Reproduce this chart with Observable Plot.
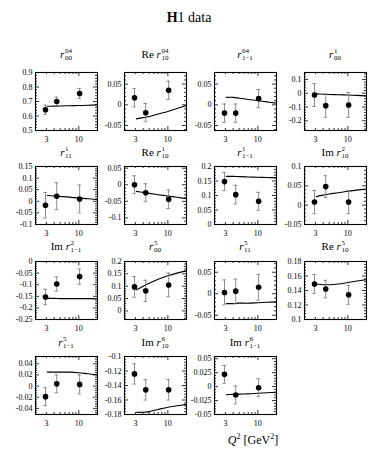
<!DOCTYPE html>
<html><head><meta charset="utf-8">
<script src="https://cdn.jsdelivr.net/npm/d3@7"></script>
<script src="https://cdn.jsdelivr.net/npm/@observablehq/plot@0.6"></script>
<style>
body{margin:0;background:#fff;}
#wrap{position:relative;width:378px;height:454px;font-family:"Liberation Serif","Times New Roman",serif;color:#000;overflow:hidden;}
.panel{position:absolute;}
.title{position:absolute;transform:translate(-50%,-50%);font-size:11px;white-space:nowrap;line-height:1;}
.ss{display:inline-flex;flex-direction:column;vertical-align:middle;font-size:7px;line-height:7px;margin-left:0.5px;}
#main{position:absolute;left:189px;top:18px;transform:translate(-50%,-50%);font-size:14px;white-space:nowrap;}
#xlab{position:absolute;left:253px;top:440px;transform:translate(-50%,-50%);font-size:12px;white-space:nowrap;}
#xlab sup{font-size:8px;}
</style></head>
<body><div id="wrap">
<div id="main"><b>H</b>1 data</div>
<div id="xlab"><i>Q</i><sup>2</sup> [GeV<sup>2</sup>]</div>
</div>
<script>
// ---- data ----
const Q2 = [2.9, 4.4, 10.3];
const curveQ2 = [3.1, 4, 5, 7, 10, 14, 20];
const xLabelTicks = [3, 10];
const xMinorTicks = [3, 4, 5, 6, 7, 8, 9];
const xMajorTicks = [10];

const titlePrefix = ["", "Re ", "", "", "", "Re ", "", "Im ", "Im ", "", "", "Re ", "", "Im ", "Im "];
const titleSup = ["04","04","04","1","1","1","1","2","2","5","5","5","5","6","6"];
const titleSub = ["00","10","1\u22121","00","11","10","1\u22121","10","1\u22121","00","11","10","1\u22121","10","1\u22121"];

const yDomains = [
  [0.5, 0.9], [-0.062, 0.078], [-0.062, 0.078], [-0.27, 0.15],
  [-0.1, 0.15], [-0.12, 0.055], [0, 0.2], [-0.05, 0.1],
  [-0.25, 0], [-0.035, 0.2], [-0.06, 0.075], [0.1, 0.18],
  [-0.051, 0.053], [-0.18, -0.1], [-0.05, 0.054]
];
const yTicks = [
  [0.5, 0.6, 0.7, 0.8, 0.9], [-0.05, 0, 0.05], [-0.05, 0, 0.05], [-0.2, -0.1, 0, 0.1],
  [-0.1, -0.05, 0, 0.05, 0.1, 0.15], [-0.1, -0.05, 0, 0.05], [0, 0.05, 0.1, 0.15, 0.2], [-0.05, 0, 0.05, 0.1],
  [-0.25, -0.2, -0.15, -0.1, -0.05, 0], [0, 0.05, 0.1, 0.15, 0.2], [-0.05, 0, 0.05], [0.1, 0.12, 0.14, 0.16, 0.18],
  [-0.04, -0.02, 0, 0.02, 0.04], [-0.18, -0.16, -0.14, -0.12, -0.1], [-0.05, -0.025, 0, 0.025, 0.05]
];
const values = [
  [0.643, 0.70, 0.755], [0.017, -0.019, 0.035], [-0.02, -0.02, 0.015], [-0.013, -0.09, -0.085],
  [-0.017, 0.022, 0.01], [0.0, -0.024, -0.044], [0.148, 0.103, 0.08], [0.008, 0.048, 0.008],
  [-0.153, -0.097, -0.065], [0.097, 0.081, 0.105], [0.003, 0.006, 0.015], [0.149, 0.142, 0.134],
  [-0.019, 0.004, 0.003], [-0.124, -0.146, -0.146], [0.022, -0.015, -0.002]
];
const errors = [
  [0.032, 0.03, 0.035], [0.022, 0.022, 0.022], [0.022, 0.022, 0.022], [0.083, 0.085, 0.09],
  [0.055, 0.058, 0.06], [0.027, 0.027, 0.028], [0.031, 0.032, 0.031], [0.03, 0.028, 0.03],
  [0.033, 0.031, 0.033], [0.042, 0.043, 0.048], [0.029, 0.028, 0.03], [0.013, 0.012, 0.013],
  [0.016, 0.016, 0.017], [0.014, 0.014, 0.014], [0.016, 0.016, 0.016]
];
const curves = [
  [0.667, 0.668, 0.669, 0.671, 0.672, 0.674, 0.677],
  [-0.034, -0.031, -0.028, -0.022, -0.016, -0.009, -0.002],
  [0.018, 0.018, 0.016, 0.013, 0.010, 0.007, 0.004],
  [-0.005, -0.007, -0.009, -0.011, -0.013, -0.016, -0.019],
  [0.025, 0.023, 0.021, 0.018, 0.014, 0.011, 0.007],
  [-0.020, -0.023, -0.026, -0.030, -0.034, -0.038, -0.042],
  [0.166, 0.166, 0.165, 0.164, 0.163, 0.162, 0.161],
  [0.022, 0.026, 0.029, 0.032, 0.036, 0.039, 0.042],
  [-0.159, -0.159, -0.16, -0.16, -0.16, -0.16, -0.161],
  [0.085, 0.100, 0.112, 0.128, 0.142, 0.153, 0.163],
  [-0.023, -0.023, -0.022, -0.022, -0.021, -0.020, -0.019],
  [0.149, 0.148, 0.148, 0.149, 0.151, 0.153, 0.155],
  [0.025, 0.025, 0.025, 0.025, 0.024, 0.022, 0.020],
  [-0.177, -0.177, -0.176, -0.173, -0.170, -0.168, -0.166],
  [-0.0145, -0.014, -0.0135, -0.013, -0.012, -0.011, -0.010]
];

// ---- layout ----
const colX = [35, 124, 214, 304];
const rowY = [72, 166, 261, 356];
const titleY = [55, 153, 247, 343];
const fw = 62, fh = 58, mL = 32, mR = 3, mT = 3, mB = 18;

const wrap = document.getElementById("wrap");
const fmt = v => String(+v.toFixed(4));

function panel(i) {
  const yd = yDomains[i], span = yd[1] - yd[0];
  const pts = Q2.map((q, j) => ({q, v: values[i][j], e: errors[i][j]}));
  const cur = curveQ2.map((q, j) => ({q, v: curves[i][j]}));
  const major = yTicks[i];
  const mstep = (major[1] - major[0]) / 5;
  const minor = d3.range(Math.ceil(yd[0] / mstep - 1e-6), Math.floor(yd[1] / mstep + 1e-6) + 1)
    .map(k => +(k * mstep).toFixed(6))
    .filter(v => !major.some(m => Math.abs(m - v) < 1e-9));
  const dyL = L => span * L / fh;
  const kx = L => Math.pow(10, L / fw);
  const tk = {stroke: "#000", strokeWidth: 0.8};
  const yRules = (vals, L) => [
    Plot.ruleY(vals, {x1: 2, x2: 2 * kx(L), ...tk}),
    Plot.ruleY(vals, {x1: 20 / kx(L), x2: 20, ...tk})
  ];
  const xRules = (vals, L) => [
    Plot.ruleX(vals, {y1: yd[0], y2: yd[0] + dyL(L), ...tk}),
    Plot.ruleX(vals, {y1: yd[1] - dyL(L), y2: yd[1], ...tk})
  ];
  const cap = kx(1.8);
  return Plot.plot({
    width: fw + mL + mR, height: fh + mT + mB,
    marginLeft: mL, marginRight: mR, marginTop: mT, marginBottom: mB,
    x: {type: "log", domain: [2, 20], label: null},
    y: {domain: yd, label: null},
    style: {background: "none", fontFamily: "'Liberation Serif', 'Times New Roman', serif", fontSize: "8px", color: "#000", overflow: "visible"},
    marks: [
      ...yRules(major, 4), ...yRules(minor, 2),
      ...xRules(xMajorTicks, 4), ...xRules(xMinorTicks, 2),
      Plot.axisY({ticks: major, anchor: "left", tickSize: 0, tickPadding: 3, tickFormat: fmt, label: null}),
      Plot.axisX({ticks: xLabelTicks, anchor: "bottom", tickSize: 0, tickPadding: 6, tickFormat: d => String(d), label: null}),
      Plot.line(cur, {x: "q", y: "v", stroke: "#000", strokeWidth: 1.1, curve: "catmull-rom"}),
      Plot.ruleX(pts, {x: "q", y1: d => d.v - d.e, y2: d => d.v + d.e, stroke: "#808080", strokeWidth: 0.9}),
      Plot.ruleY(pts, {y: d => d.v + d.e, x1: d => d.q / cap, x2: d => d.q * cap, stroke: "#808080", strokeWidth: 0.9}),
      Plot.ruleY(pts, {y: d => d.v - d.e, x1: d => d.q / cap, x2: d => d.q * cap, stroke: "#808080", strokeWidth: 0.9}),
      Plot.dot(pts, {x: "q", y: "v", r: 2.8, fill: "#000"}),
      Plot.frame({stroke: "#000", strokeWidth: 1.1})
    ]
  });
}

for (let i = 0; i < 15; i++) {
  const r = Math.floor(i / 4), c = i % 4;
  const el = panel(i);
  const box = document.createElement("div");
  box.className = "panel";
  box.style.left = (colX[c] - mL) + "px";
  box.style.top = (rowY[r] - mT) + "px";
  box.appendChild(el);
  wrap.appendChild(box);
  const t = document.createElement("div");
  t.className = "title";
  t.style.left = (colX[c] + fw / 2) + "px";
  t.style.top = titleY[r] + "px";
  t.innerHTML = titlePrefix[i] + "<i>r</i><span class='ss'><span>" + titleSup[i] + "</span><span>" + titleSub[i] + "</span></span>";
  wrap.appendChild(t);
}
</script>
</body></html>
